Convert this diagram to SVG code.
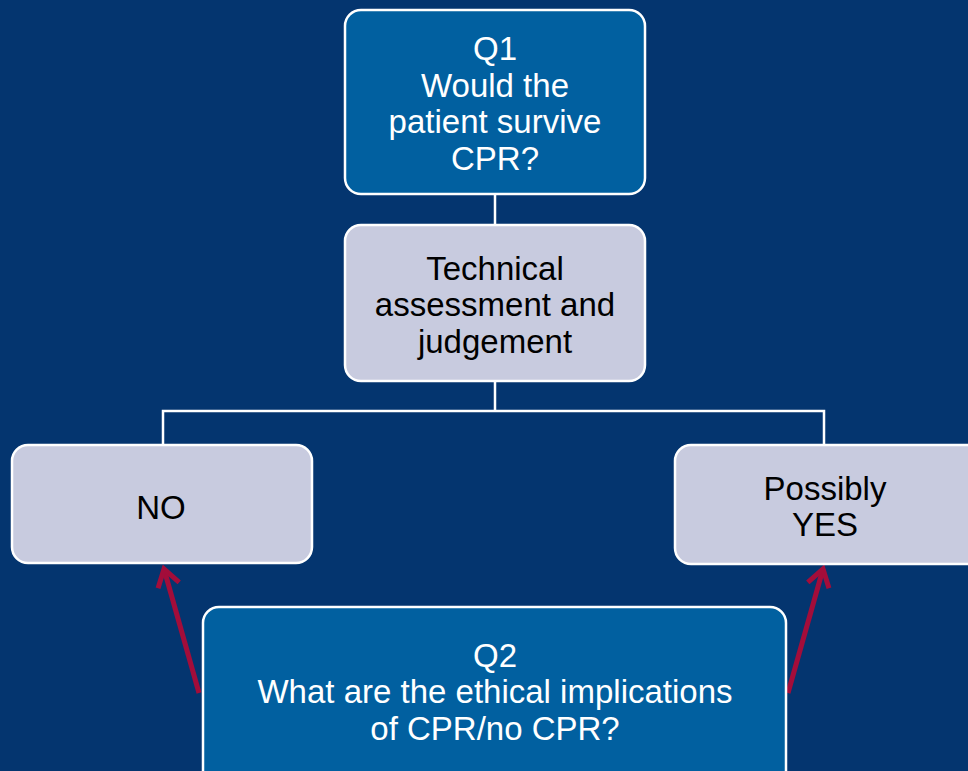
<svg xmlns="http://www.w3.org/2000/svg" width="968" height="771" viewBox="0 0 968 771">
<style>
.dark{fill:#0160a0;stroke:#ffffff;stroke-width:2.5}
.light{fill:#c8cbdf;stroke:#ffffff;stroke-width:2.5}
.tw{font-family:"Liberation Sans",Arial,sans-serif;font-size:33px;fill:#ffffff;text-anchor:middle}
.tb{font-family:"Liberation Sans",Arial,sans-serif;font-size:33px;fill:#000000;text-anchor:middle}
.conn{fill:none;stroke:#ffffff;stroke-width:2.5}
.arr{fill:none;stroke:#a30d3a;stroke-width:5}
</style>
<defs>
<marker id="chev" markerUnits="userSpaceOnUse" viewBox="-24 -16 28 32" refX="0" refY="0" markerWidth="28" markerHeight="32" orient="auto">
<path d="M-17,-11 L0,0 L-17,11" fill="none" stroke="#a30d3a" stroke-width="5" stroke-linejoin="miter"/>
</marker>
</defs>
<rect width="968" height="771" fill="#04356f"/>
<g id="connectors">
<line class="conn" x1="495" y1="194" x2="495" y2="225"/>
<polyline class="conn" points="495,381 495,411"/>
<polyline class="conn" points="163,445 163,411 824,411 824,445"/>
<line class="arr" x1="199" y1="693" x2="164" y2="569" marker-end="url(#chev)"/>
<line class="arr" x1="788" y1="693" x2="823" y2="569" marker-end="url(#chev)"/>
</g>
<g id="q1">
<rect class="dark" x="345" y="10" width="300" height="184" rx="16"/>
<text class="tw" x="495" y="60">Q1</text>
<text class="tw" x="495" y="97">Would the</text>
<text class="tw" x="495" y="133">patient survive</text>
<text class="tw" x="495" y="170">CPR?</text>
</g>
<g id="tech">
<rect class="light" x="345" y="225" width="300" height="156" rx="16"/>
<text class="tb" x="495" y="280">Technical</text>
<text class="tb" x="495" y="316">assessment and</text>
<text class="tb" x="495" y="353">judgement</text>
</g>
<g id="no">
<rect class="light" x="12" y="445" width="300" height="118" rx="16"/>
<text class="tb" x="161" y="519">NO</text>
</g>
<g id="yes">
<rect class="light" x="675" y="445" width="310" height="119" rx="16"/>
<text class="tb" x="825" y="500">Possibly</text>
<text class="tb" x="825" y="536">YES</text>
</g>
<g id="q2">
<rect class="dark" x="203" y="607" width="583" height="180" rx="16"/>
<text class="tw" x="495" y="667">Q2</text>
<text class="tw" x="495" y="703">What are the ethical implications</text>
<text class="tw" x="495" y="740">of CPR/no CPR?</text>
</g>
</svg>
